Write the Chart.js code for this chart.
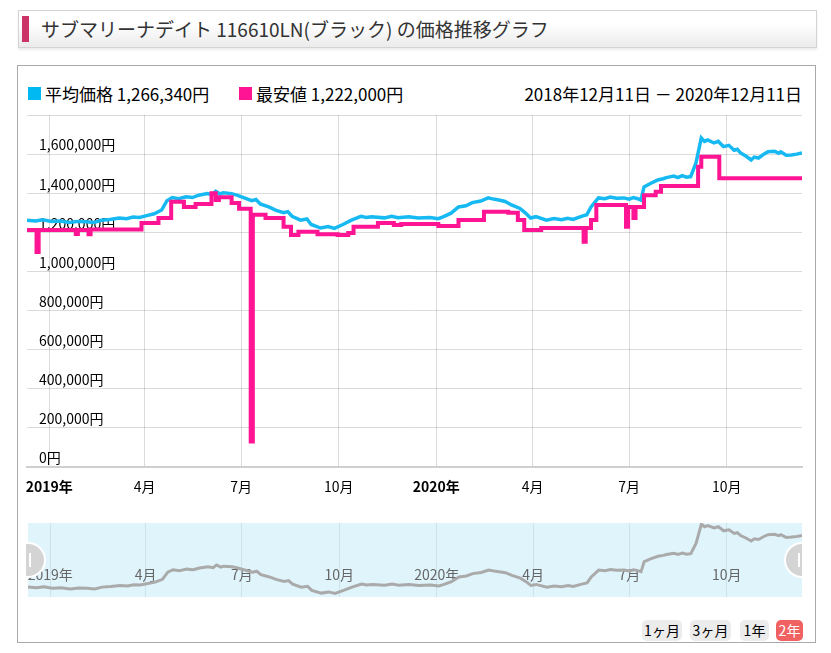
<!DOCTYPE html>
<html lang="ja">
<head>
<meta charset="utf-8">
<script src="https://cdn.jsdelivr.net/npm/chart.js@4.4.1/dist/chart.umd.min.js"></script>
<style>
body { margin:0; width:831px; height:653px; background:#fff; position:relative; overflow:hidden;
  font-family:'Noto Sans CJK JP','Noto Sans',sans-serif; color:#000; }
.title { position:absolute; left:18px; top:10px; width:797px; height:36px; border:1px solid #d4d4d4;
  background:linear-gradient(#fff 35%, #ebebeb); box-shadow:0 2px 2px rgba(0,0,0,0.08); }
.title .bar { position:absolute; left:3px; top:5px; width:7px; height:26px; background:#cc3366; }
.title .txt { position:absolute; left:22px; top:0; line-height:36px; font-size:19px; color:#333; white-space:nowrap; }
.box { position:absolute; left:17px; top:65px; width:797px; height:576px; border:1px solid #aaa; }
.sq { position:absolute; top:87px; width:13px; height:13px; }
.lg { position:absolute; top:82px; font-size:17px; line-height:24px; white-space:nowrap; }
.btn { position:absolute; top:620px; height:21px; line-height:21px; font-size:14px; background:#ececec;
  border-radius:5px; text-align:center; }
canvas { position:absolute; }
</style>
</head>
<body>
<div class="title"><div class="bar"></div><div class="txt">サブマリーナデイト 116610LN(ブラック) の価格推移グラフ</div></div>
<div class="box"></div>
<div class="sq" style="left:28px;background:#00b9f2"></div>
<div class="lg" style="left:45px">平均価格 1,266,340円</div>
<div class="sq" style="left:239px;background:#ff1493"></div>
<div class="lg" style="left:256px">最安値 1,222,000円</div>
<div class="lg" style="right:29px">2018年12月11日 － 2020年12月11日</div>
<canvas id="main" width="790" height="387" style="left:25px;top:110px"></canvas>
<canvas id="nav" width="797" height="90" style="left:18px;top:515px"></canvas>
<div class="btn" style="left:642px;width:40px">1ヶ月</div>
<div class="btn" style="left:690px;width:41px">3ヶ月</div>
<div class="btn" style="left:740px;width:29px">1年</div>
<div class="btn" style="left:776px;width:27px;background:#f06262;color:#fff">2年</div>
<script>
// days counted from 2018-12-11
const tickDays = [21, 111, 202, 294, 386, 477, 568, 660];
const tickLabels = ['2019年', '4月', '7月', '10月', '2020年', '4月', '7月', '10月'];
const yearTicks = [21, 386];

const avgDays = [0, 8, 15, 23, 31, 40, 48, 56, 63, 70, 78, 87, 94, 100, 106, 112, 120, 127, 132, 137,
  143, 150, 156, 162, 170, 175, 178, 182, 185, 193, 198, 203, 212, 216, 220, 228, 235, 242, 246, 250,
  258, 264, 268, 277, 284, 290, 298, 306, 315, 320, 325, 337, 344, 350, 360, 369, 380, 388, 393, 400,
  407, 414, 420, 428, 435, 440, 445, 451, 457, 465, 470, 475, 480, 490, 497, 504, 510, 515, 523, 528,
  532, 539, 545, 550, 556, 563, 568, 572, 576, 579, 582, 588, 595, 600, 603, 610, 614, 618, 622, 626,
  631, 636, 639, 642, 648, 652, 657, 662, 667, 670, 673, 678, 683, 686, 690, 695, 699, 705, 709, 711,
  716, 721, 726, 731];
const avgPrices = [1262000, 1258000, 1264000, 1255000, 1258000, 1250000, 1256000, 1254000, 1250000, 1262000,
  1266000, 1273000, 1270000, 1278000, 1276000, 1284000, 1295000, 1314000, 1362000, 1378000,
  1372000, 1382000, 1378000, 1390000, 1398000, 1392000, 1410000, 1396000, 1402000, 1398000,
  1390000, 1380000, 1362000, 1368000, 1345000, 1330000, 1312000, 1300000, 1306000, 1282000,
  1262000, 1268000, 1240000, 1222000, 1230000, 1220000, 1240000, 1262000, 1282000, 1276000,
  1280000, 1274000, 1282000, 1275000, 1280000, 1273000, 1276000, 1270000, 1280000, 1298000,
  1330000, 1336000, 1352000, 1360000, 1376000, 1370000, 1365000, 1358000, 1340000, 1322000,
  1300000, 1273000, 1280000, 1262000, 1270000, 1264000, 1272000, 1266000, 1282000, 1290000,
  1330000, 1376000, 1372000, 1380000, 1374000, 1376000, 1370000, 1378000, 1372000, 1365000,
  1432000, 1450000, 1468000, 1474000, 1480000, 1488000, 1480000, 1490000, 1482000, 1485000,
  1555000, 1683000, 1665000, 1672000, 1657000, 1665000, 1638000, 1645000, 1620000, 1625000,
  1606000, 1590000, 1570000, 1585000, 1580000, 1600000, 1612000, 1615000, 1605000, 1612000,
  1594000, 1596000, 1600000, 1606000];

const minDays = [0, 9, 11, 46, 48, 58, 60, 108, 124, 136, 148, 159, 174, 178, 181, 193, 200, 211, 213, 225,
  242, 249, 256, 274, 293, 303, 308, 331, 346, 353, 388, 407, 431, 454, 463, 469, 485, 525, 527, 532,
  537, 565, 567, 572, 574, 582, 593, 598, 633, 636, 653, 731];
const minPrices = [1212000, 1100000, 1212000, 1192000, 1212000, 1190000, 1215000, 1248000, 1273000, 1357000,
  1330000, 1345000, 1400000, 1365000, 1380000, 1350000, 1320000, 130000, 1290000, 1273000,
  1229000, 1186000, 1203000, 1190000, 1186000, 1196000, 1229000, 1248000, 1237000, 1242000,
  1232000, 1263000, 1305000, 1300000, 1263000, 1212000, 1222000, 1152000, 1222000, 1263000,
  1340000, 1229000, 1330000, 1273000, 1330000, 1390000, 1408000, 1437000, 1536000, 1587000,
  1476000, 1480000];

const cyan = '#16b9f2';
const pink = '#ff1493';
Chart.defaults.font.family = "'Noto Sans CJK JP', 'Noto Sans', sans-serif";

function toPoints(d, v) {
  return d.map((x, i) => ({ x: x, y: v[i] }));
}

new Chart(document.getElementById('main'), {
  type: 'line',
  data: {
    datasets: [
      { label: '最安値', data: toPoints(minDays, minPrices), borderColor: pink, borderWidth: 4,
        pointRadius: 0, stepped: true },
      { label: '平均価格', data: toPoints(avgDays, avgPrices), borderColor: cyan, borderWidth: 3.5,
        pointRadius: 0, tension: 0 }
    ]
  },
  options: {
    responsive: false,
    animation: false,
    layout: { padding: { left: 2, right: 13, top: 5, bottom: 0 } },
    plugins: { legend: { display: false }, tooltip: { enabled: false } },
    scales: {
      x: {
        type: 'linear', min: 0, max: 731,
        afterBuildTicks: s => { s.ticks = tickDays.map(v => ({ value: v })); },
        afterFit: s => { s.height = 30; s.paddingLeft = 0; s.paddingRight = 0; },
        grid: { color: 'rgba(0,0,0,0.14)', drawTicks: false },
        border: { color: '#cfcfcf', width: 2 },
        ticks: {
          padding: 11, color: '#000', maxRotation: 0, autoSkip: false,
          font: c => ({ size: 14, weight: (c.tick && yearTicks.includes(c.tick.value)) ? 'bold' : 'normal' }),
          callback: (v, i) => tickLabels[i]
        }
      },
      y: {
        min: 0, max: 1800000,
        afterFit: s => { s.width = 0; s.paddingTop = 0; s.paddingBottom = 0; },
        grid: { color: 'rgba(0,0,0,0.14)', drawTicks: false },
        border: { display: false },
        ticks: {
          stepSize: 200000, mirror: true, padding: 12, labelOffset: -9, color: '#000', font: { size: 14 },
          callback: v => v >= 1800000 ? '' : v.toLocaleString('en-US') + '円'
        }
      }
    }
  }
});

const navDecor = {
  id: 'navDecor',
  beforeDraw(chart) {
    const a = chart.chartArea, ctx = chart.ctx;
    ctx.save();
    ctx.fillStyle = '#e0f4fc';
    ctx.fillRect(a.left, a.top, a.right - a.left, a.bottom - a.top);
    ctx.restore();
  },
  beforeDatasetsDraw(chart) {
    const a = chart.chartArea, ctx = chart.ctx, sx = chart.scales.x;
    ctx.save();
    ctx.beginPath();
    ctx.rect(a.left, a.top, a.right - a.left, a.bottom - a.top);
    ctx.clip();
    ctx.fillStyle = '#666';
    ctx.font = "14px 'Noto Sans CJK JP', sans-serif";
    ctx.textAlign = 'center';
    ctx.textBaseline = 'middle';
    tickDays.forEach((d, i) => ctx.fillText(tickLabels[i], sx.getPixelForValue(d), a.bottom - 22));
    ctx.restore();
  },
  afterDraw(chart) {
    const a = chart.chartArea, ctx = chart.ctx;
    const cy = a.top + 37;
    ctx.save();
    ctx.beginPath();
    ctx.rect(a.left - 2, 0, a.right - a.left + 2, chart.height);
    ctx.clip();
    [[a.left, a.left + 2], [a.right, a.right - 3]].forEach(h => {
      ctx.beginPath();
      ctx.arc(h[0], cy, 17, 0, Math.PI * 2);
      ctx.fillStyle = '#d4d4d4';
      ctx.fill();
      ctx.lineWidth = 2;
      ctx.strokeStyle = '#fff';
      ctx.stroke();
      ctx.beginPath();
      ctx.moveTo(h[1], cy - 7);
      ctx.lineTo(h[1], cy + 7);
      ctx.stroke();
    });
    ctx.restore();
  }
};

new Chart(document.getElementById('nav'), {
  type: 'line',
  data: {
    datasets: [
      { data: toPoints(avgDays, avgPrices), borderColor: '#aaaaaa', borderWidth: 3, pointRadius: 0, tension: 0 }
    ]
  },
  options: {
    responsive: false,
    animation: false,
    layout: { padding: { left: 10, right: 13, top: 8, bottom: 8 } },
    plugins: { legend: { display: false }, tooltip: { enabled: false } },
    scales: {
      x: {
        type: 'linear', min: 0, max: 731,
        afterBuildTicks: s => { s.ticks = tickDays.map(v => ({ value: v })); },
        afterFit: s => { s.height = 0; s.paddingLeft = 0; s.paddingRight = 0; },
        grid: { color: '#cde3ec', drawTicks: false },
        border: { display: false },
        ticks: { display: false }
      },
      y: { display: false, min: 1196000, max: 1690000 }
    }
  },
  plugins: [navDecor]
});
</script>
</body>
</html>
